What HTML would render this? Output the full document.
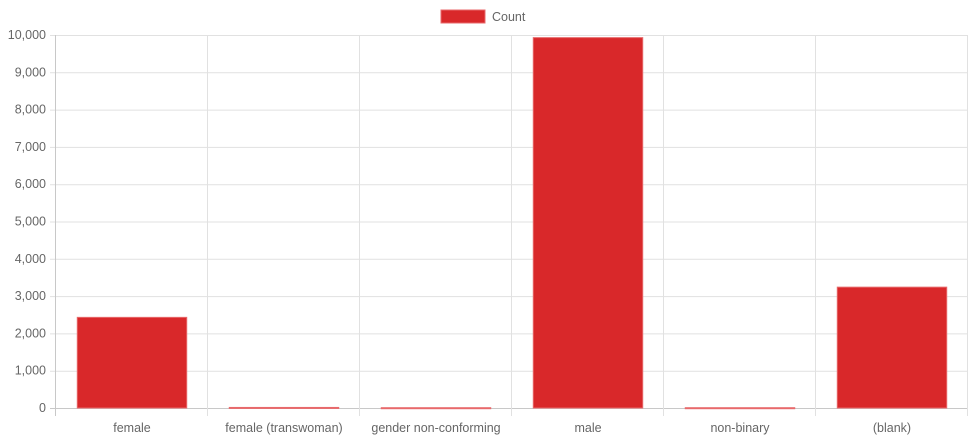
<!DOCTYPE html>
<html><head><meta charset="utf-8">
<style>
html,body{margin:0;padding:0;background:#fff;}
svg text{font-family:"Liberation Sans",Arial,sans-serif;fill:#666;}
</style></head>
<body>
<svg id="chart" width="968" height="440" xmlns="http://www.w3.org/2000/svg">
<g id="legend">
<rect x="441" y="10" width="44" height="13" fill="#d9282a" stroke="#e8696b" stroke-width="1"/>
<text x="492" y="21" font-size="12.5">Count</text>
</g>
<g id="grid"></g>
<g id="bars"></g>
<g id="labels"></g>
</svg>
<script>
const categories=["female","female (transwoman)","gender non-conforming","male","non-binary","(blank)"];
const counts=[2430,15,8,9930,8,3240];
const yTicks=[0,1000,2000,3000,4000,5000,6000,7000,8000,9000,10000];
const yTickLabels=["0","1,000","2,000","3,000","4,000","5,000","6,000","7,000","8,000","9,000","10,000"];

const NS="http://www.w3.org/2000/svg";
const L=55,R=967,T=35,B=408,yMax=10000;
const bw=(R-L)/categories.length;
const y=v=>B-(v/yMax)*(B-T);
const x=i=>L+i*bw;
function mk(tag,attrs,parent){const e=document.createElementNS(NS,tag);for(const k in attrs)e.setAttribute(k,attrs[k]);document.getElementById(parent).appendChild(e);return e;}

yTicks.forEach((t,i)=>{
  const g=mk("line",{x1:L-5,x2:R,y1:y(t)+0.5,y2:y(t)+0.5,stroke:i===0?"#c8c8c8":"#e1e1e1","stroke-width":1},"grid");
  
  
  const tx=mk("text",{x:L-9,y:y(t)+4,"text-anchor":"end","font-size":12.5},"labels");
  tx.textContent=yTickLabels[i];
  
  
});
for(let i=0;i<=categories.length;i++){
  const g=mk("line",{x1:x(i)+0.5,x2:x(i)+0.5,y1:T,y2:B+8,stroke:i===0?"#c8c8c8":"#e1e1e1","stroke-width":1},"grid");
  
  
}
categories.forEach((c,i)=>{
  const w=bw*0.72, bx=x(i)+(bw-w)/2+1, top=y(counts[i]);
  const r=mk("rect",{x:bx,y:top,width:w,height:Math.max(B-top,1),fill:"#d9282a",stroke:"#e8696b","stroke-width":1},"bars");
  
  
  const tx=mk("text",{x:x(i)+bw/2+1,y:B+24,"text-anchor":"middle","font-size":12.5},"labels");
  tx.textContent=c;
  
  
});
</script>
</body></html>
